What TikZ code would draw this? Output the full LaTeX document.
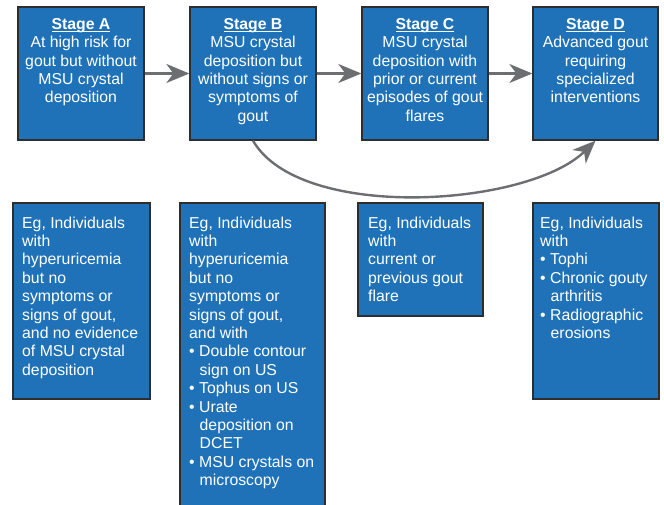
\documentclass[tikz,border=0pt]{standalone}
\usepackage{fontspec}
\setmainfont{Liberation Sans}
\usetikzlibrary{arrows.meta}

\definecolor{stageblue}{HTML}{1F72B8}
\definecolor{arrowgray}{HTML}{6D6E71}
\definecolor{edgegray}{HTML}{2E2E2E}

\newcommand{\bul}{\textbullet\ }
\newcommand{\hang}{\hspace*{10.5pt}}
\newcommand{\stagehead}[1]{\setbox0\hbox{\textbf{#1}}\rlap{\rule[-2.4pt]{\wd0}{1.1pt}}\box0}

\begin{document}
\begin{tikzpicture}[x=1pt, y=-1pt,
    box/.style={draw=edgegray, line width=1.3pt, fill=stageblue, inner sep=0pt},
    txt/.style={text=white, font=\fontsize{15.8}{18.4}\selectfont, inner sep=0pt},
    flow/.style={draw=arrowgray, line width=2.4pt, -{Stealth[length=23pt, width=19pt, inset=7pt]}}]
    \useasboundingbox (0,0) rectangle (664,505);

    % stages
    \node[box, minimum width=126pt, minimum height=133pt] (stageA) at (81,73.5) {};
    \node[box, minimum width=126pt, minimum height=133pt] (stageB) at (253,73.5) {};
    \node[box, minimum width=126pt, minimum height=133pt] (stageC) at (425,73.5) {};
    \node[box, minimum width=125pt, minimum height=133pt] (stageD) at (595.5,73.5) {};
    \node[txt, align=center, anchor=north] (stageAtxt) at (81,18) {\stagehead{Stage A}\\At high risk for\\gout but without\\MSU crystal\\deposition};
    \node[txt, align=center, anchor=north] (stageBtxt) at (253,18) {\stagehead{Stage B}\\MSU crystal\\deposition but\\without signs or\\symptoms of\\gout};
    \node[txt, align=center, anchor=north] (stageCtxt) at (425,18) {\stagehead{Stage C}\\MSU crystal\\deposition with\\prior or current\\episodes of gout\\flares};
    \node[txt, align=center, anchor=north] (stageDtxt) at (595.5,18) {\stagehead{Stage D}\\Advanced gout\\requiring\\specialized\\interventions};

    \draw[flow] (stageA) -- (stageB);
    \draw[flow] (stageB) -- (stageC);
    \draw[flow] (stageC) -- (stageD);
    \draw[flow] (stageB.south) .. controls (300,222) and (528,207) .. (stageD.south);

    % examples
    \node[box, minimum width=137pt, minimum height=196pt] (exA) at (81.5,301) {};
    \node[box, minimum width=145pt, minimum height=304pt] (exB) at (252.5,355) {};
    \node[box, minimum width=125pt, minimum height=113pt] (exC) at (420.5,259.5) {};
    \node[box, minimum width=126pt, minimum height=196pt] (exD) at (596,301) {};
    \node[txt, align=left, anchor=north west] (exAtxt) at (22,216.5) {Eg, Individuals\\with\\hyperuricemia\\but no\\symptoms or\\signs of gout,\\and no evidence\\of MSU crystal\\deposition};
    \node[txt, align=left, anchor=north west] (exBtxt) at (189,216.5) {Eg, Individuals\\with\\hyperuricemia\\but no\\symptoms or\\signs of gout,\\and with\\\bul Double contour\\\hang sign on US\\\bul Tophus on US\\\bul Urate\\\hang deposition on\\\hang DCET\\\bul MSU crystals on\\\hang microscopy};
    \node[txt, align=left, anchor=north west] (exCtxt) at (368,216.5) {Eg, Individuals\\with\\current or\\previous gout\\flare};
    \node[txt, align=left, anchor=north west] (exDtxt) at (540,216.5) {Eg, Individuals\\with\\\bul Tophi\\\bul Chronic gouty\\\hang arthritis\\\bul Radiographic\\\hang erosions};
\end{tikzpicture}
\end{document}
